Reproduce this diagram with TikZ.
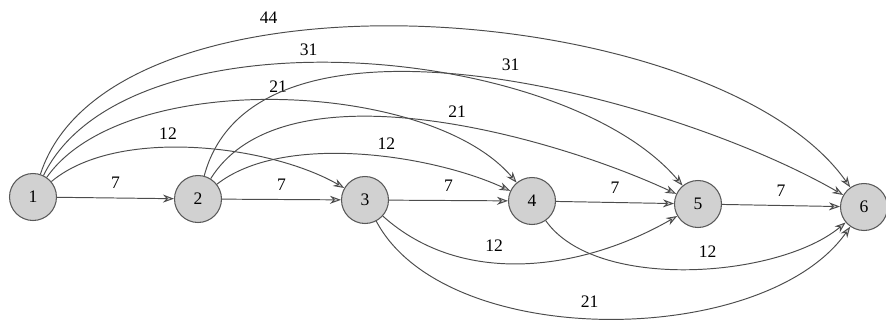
\documentclass[tikz,border=0pt]{standalone}
\usepackage{fontspec}
\setmainfont{Liberation Serif}
\usetikzlibrary{arrows.meta}
\tikzset{
  vertex/.style={
    circle, draw=black!65, line width=0.6pt,
    fill=black!18,
    minimum size=0.94cm, inner sep=0pt,
    font=\normalsize
  },
  arc/.style={
    -{Stealth[length=2.2mm,width=1.6mm,fill=black!20]},
    line width=0.55pt,
    draw=black!70
  },
  lbl/.style={
    font=\normalsize,
    inner sep=2pt
  }
}

\begin{document}
\begin{tikzpicture}[x=0.02cm, y=0.02cm]
  \useasboundingbox (0,0) rectangle (886,322);

  % stages
  \node[vertex] (n1) at (33,125)  {1};
  \node[vertex] (n2) at (198,123) {2};
  \node[vertex] (n3) at (365,122) {3};
  \node[vertex] (n4) at (532,121) {4};
  \node[vertex] (n5) at (698,118) {5};
  \node[vertex] (n6) at (864,115) {6};

  % next stage
  \draw[arc] (n1) -- node[lbl, above=3pt] {7} (n2);
  \draw[arc] (n2) -- node[lbl, above=3pt] {7} (n3);
  \draw[arc] (n3) -- node[lbl, above=3pt] {7} (n4);
  \draw[arc] (n4) -- node[lbl, above=3pt] {7} (n5);
  \draw[arc] (n5) -- node[lbl, above=3pt] {7} (n6);

  % jumps from 1
  \draw[arc] (n1) to[out=40, in=150, looseness=0.75] node[lbl, pos=0.42, above=2pt] {12} (n3);
  \draw[arc] (n1) to[out=55, in=130, looseness=0.73] node[lbl, pos=0.5, above=2pt] {21} (n4);
  \draw[arc] (n1) to[out=64, in=130, looseness=0.75] node[lbl, pos=0.45, above=2pt] {31} (n5);
  \draw[arc] (n1) to[out=72, in=125, looseness=0.73] node[lbl, pos=0.35, above=4pt] {44} (n6);

  % jumps from 2
  \draw[arc] (n2) to[out=38, in=155, looseness=0.74] node[lbl, pos=0.58, above=2pt] {12} (n4);
  \draw[arc] (n2) to[out=58, in=155, looseness=0.76] node[lbl, pos=0.56, above=2pt] {21} (n5);
  \draw[arc] (n2) to[out=75, in=150, looseness=0.79] node[lbl, pos=0.54, above=4pt] {31} (n6);

  % below the row
  \draw[arc] (n3) to[out=-42, in=-150, looseness=0.94] node[lbl, pos=0.4, above=4pt] {12} (n5);
  \draw[arc] (n4) to[out=-55, in=-140, looseness=0.74] node[lbl, pos=0.55, above=4pt] {12} (n6);
  \draw[arc] (n3) to[out=-62, in=-125, looseness=0.8]  node[lbl, pos=0.47, above=4pt] {21} (n6);
\end{tikzpicture}
\end{document}
